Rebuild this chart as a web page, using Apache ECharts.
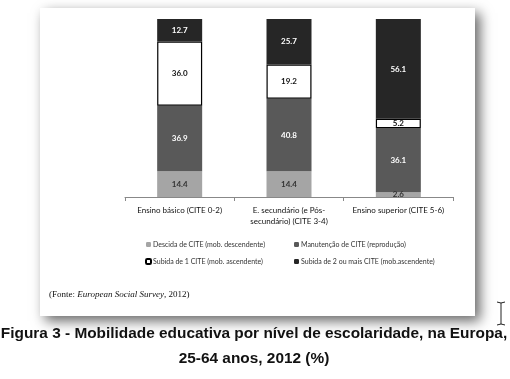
<!DOCTYPE html>
<html>
<head>
<meta charset="utf-8">
<script src="https://cdn.jsdelivr.net/npm/echarts@6/dist/echarts.min.js"></script>
<style>
html, body { margin: 0; padding: 0; background: #fff; }
#main { width: 510px; height: 379px; }
</style>
</head>
<body>
<div id="main"></div>
<script>
// categorias (níveis de escolaridade)
var categories = ['Ensino básico (CITE 0-2)', 'E. secundário (e Pós-\nsecundário) (CITE 3-4)', 'Ensino superior (CITE 5-6)'];
var seriesNames = ['Descida de CITE (mob. descendente)', 'Manutenção de CITE (reprodução)', 'Subida de 1 CITE (mob. ascendente)', 'Subida de 2 ou mais CITE (mob.ascendente)'];
var descida = [14.4, 14.4, 2.6];
var manutencao = [36.9, 40.8, 36.1];
var subida1 = [36.0, 19.2, 5.2];
var subida2 = [12.7, 25.7, 56.1];

var chart = echarts.init(document.getElementById('main'));
var lblFont = 'Lato, "DejaVu Sans", sans-serif';

function mkSeries(name, data, color, txtColor, border) {
    return {
        name: name,
        type: 'bar',
        stack: 'total',
        data: data,
        barWidth: 45,
        itemStyle: {
            color: color,
            borderColor: border ? '#000' : color,
            borderWidth: border ? 1.2 : 0
        },
        label: {
            show: true,
            position: 'inside',
            color: txtColor,
            fontFamily: lblFont,
            fontSize: 8,
            fontWeight: 'bold',
            formatter: function (p) { return p.value.toFixed(1); }
        }
    };
}

var option = {
    backgroundColor: '#fff',
    animation: false,
    graphic: [
        {
            type: 'rect', z: -10,
            shape: { x: 40, y: 8, width: 435, height: 308 },
            style: { fill: '#fff', shadowBlur: 12, shadowOffsetX: 5, shadowOffsetY: 5, shadowColor: 'rgba(0,0,0,0.6)' }
        },
        {
            type: 'text', left: 49, top: 290,
            style: {
                rich: {
                    n: { fontFamily: '"Liberation Serif", serif', fontSize: 9, fill: '#111' },
                    i: { fontFamily: '"Liberation Serif", serif', fontSize: 9, fontStyle: 'italic', fill: '#111' }
                },
                text: '{n|(Fonte: }{i|European Social Survey}{n|, 2012)}'
            }
        },
        {
            type: 'text', x: 254, y: 321,
            style: {
                text: 'Figura 3 - Mobilidade educativa por nível de escolaridade, na Europa,\n25-64 anos, 2012 (%)',
                align: 'center', fontFamily: '"Liberation Sans", Arial, sans-serif', fontSize: 15.4,
                fontWeight: 'bold', fill: '#111', lineHeight: 25
            }
        },
        {
            type: 'polyline',
            shape: { points: [[497, 302], [501, 303], [505, 302]] },
            style: { stroke: '#222', lineWidth: 1, fill: null }
        },
        {
            type: 'line',
            shape: { x1: 501, y1: 303, x2: 501, y2: 324 },
            style: { stroke: '#222', lineWidth: 1 }
        },
        {
            type: 'polyline',
            shape: { points: [[497, 325], [501, 324], [505, 325]] },
            style: { stroke: '#222', lineWidth: 1, fill: null }
        }
    ],
    grid: { left: 125, right: 57, top: 19, bottom: 182 },
    legend: [
        {
            orient: 'vertical', left: 140, top: 236, itemWidth: 5, itemHeight: 5, itemGap: 10,
            textStyle: { fontFamily: lblFont, fontSize: 7, color: '#333', padding: [0, 0, 0, -3] },
            data: [seriesNames[0], seriesNames[2]]
        },
        {
            orient: 'vertical', left: 289, top: 236, itemWidth: 5, itemHeight: 5, itemGap: 10,
            textStyle: { fontFamily: lblFont, fontSize: 7, color: '#333', padding: [0, 0, 0, -3] },
            data: [seriesNames[1], seriesNames[3]]
        }
    ],
    xAxis: {
        type: 'category',
        data: categories,
        axisLine: { lineStyle: { color: '#888', width: 1 } },
        axisTick: { show: true, length: 4, lineStyle: { color: '#888' } },
        axisLabel: { fontFamily: lblFont, fontSize: 8, color: '#111', margin: 8, lineHeight: 11, interval: 0 }
    },
    yAxis: {
        type: 'value', min: 0, max: 100, show: false,
        splitLine: { show: false }
    },
    series: [
        mkSeries(seriesNames[0], descida, '#a5a5a5', '#333', false),
        mkSeries(seriesNames[1], manutencao, '#595959', '#fff', false),
        mkSeries(seriesNames[2], subida1, '#fff', '#111', true),
        mkSeries(seriesNames[3], subida2, '#262626', '#fff', false)
    ]
};
chart.setOption(option);
</script>
</body>
</html>
